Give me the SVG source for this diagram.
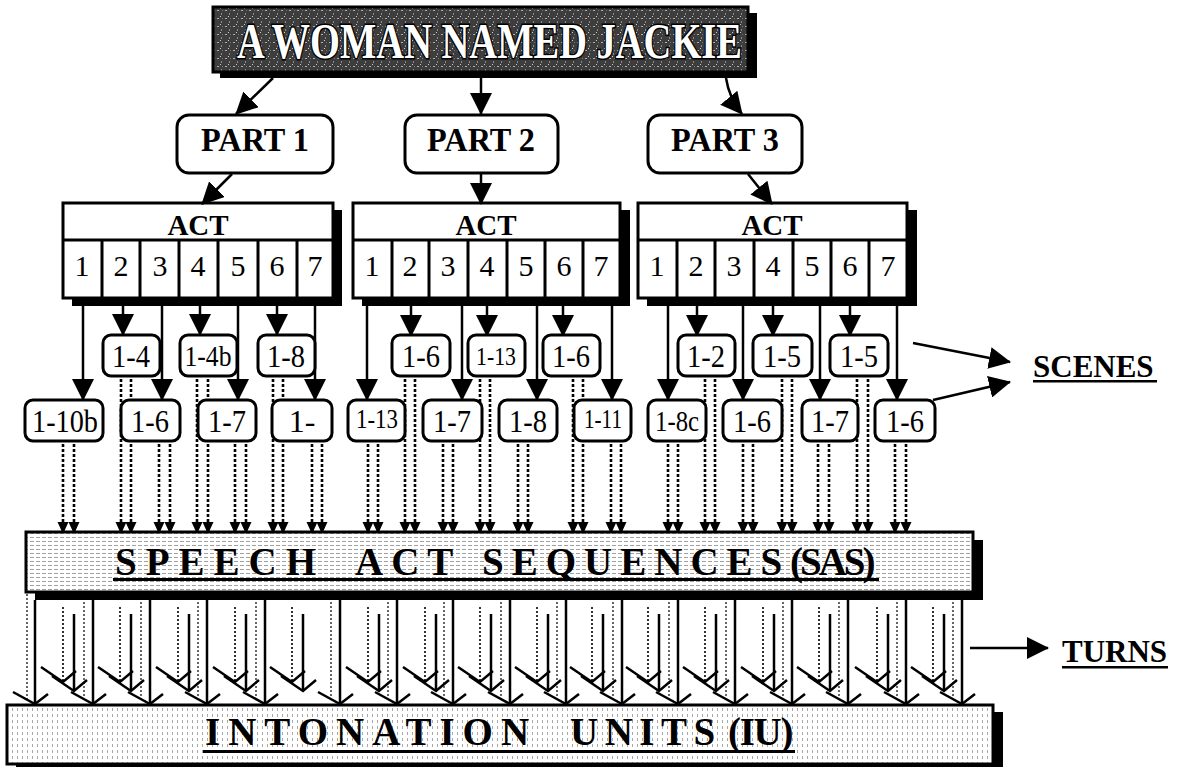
<svg xmlns="http://www.w3.org/2000/svg" width="1185" height="767" viewBox="0 0 1185 767">
<style>
.box{fill:#fff;stroke:#000;stroke-width:3}
.sh{fill:#000}
.t{font-family:"Liberation Serif","Times New Roman",serif;fill:#000}
.b{font-weight:bold}
.c{text-anchor:middle}
.ln{stroke:#000;stroke-width:2.5;fill:none}
.dt{stroke:#000;stroke-width:2.6;stroke-dasharray:3 2;fill:none}
.th{stroke:#000;stroke-width:1.2;stroke-dasharray:2 2;fill:none}
.sl{font-size:32px}
</style>
<defs>
<marker id="ah" viewBox="0 0 22 22" refX="21" refY="11" markerWidth="22" markerHeight="22" markerUnits="userSpaceOnUse" orient="auto"><path d="M0,0 L22,11 L0,22 z" fill="#000"/></marker>
<marker id="ahs" viewBox="0 0 12 12" refX="12" refY="6" markerWidth="12" markerHeight="12" markerUnits="userSpaceOnUse" orient="auto"><path d="M0,0.5 L12,6 L0,11.5 z" fill="#000"/></marker>
<pattern id="grain" width="8" height="8" patternUnits="userSpaceOnUse"><rect width="8" height="8" fill="#3d3d3d"/><rect x="1" y="2" width="2" height="1" fill="#b0b0b0"/><rect x="5" y="5" width="1" height="2" fill="#8a8a8a"/><rect x="4" y="0" width="1" height="1" fill="#d0d0d0"/><rect x="6" y="2" width="1" height="1" fill="#777"/></pattern>
<pattern id="hdots" width="6" height="4" patternUnits="userSpaceOnUse"><rect width="6" height="4" fill="#fff"/><rect x="0" y="1" width="4" height="1" fill="#a0a0a0"/></pattern>
<pattern id="vdots" width="5" height="6" patternUnits="userSpaceOnUse"><rect width="5" height="6" fill="#fff"/><rect x="2" y="0" width="1" height="3" fill="#a8a8a8"/></pattern>
</defs>

<g id="title">
<rect class="sh" x="220" y="13" width="537" height="65"/>
<rect x="213" y="7" width="535" height="65" fill="url(#grain)" stroke="#000" stroke-width="3"/>
<text class="t b" x="237" y="58" font-size="50" textLength="505" lengthAdjust="spacingAndGlyphs" style="fill:#fff;stroke:#000;stroke-width:3;paint-order:stroke fill">A WOMAN NAMED JACKIE</text>
</g>

<g id="part1"><rect class="box" x="177" y="115" width="156" height="58" rx="12"/><text class="t b c" x="255" y="151" font-size="34" textLength="108" lengthAdjust="spacingAndGlyphs">PART 1</text></g>
<g id="part2"><rect class="box" x="405" y="115" width="153" height="58" rx="12"/><text class="t b c" x="481" y="151" font-size="34" textLength="108" lengthAdjust="spacingAndGlyphs">PART 2</text></g>
<g id="part3"><rect class="box" x="648" y="115" width="154" height="58" rx="12"/><text class="t b c" x="725" y="151" font-size="34" textLength="108" lengthAdjust="spacingAndGlyphs">PART 3</text></g>

<g id="act1">
<rect class="sh" x="72" y="210" width="270" height="96"/>
<rect class="box" x="63" y="203" width="270" height="95"/>
<path class="ln" d="M63,240 H333 M102,240 V298 M140,240 V298 M179,240 V298 M218,240 V298 M258,240 V298 M297,240 V298" style="stroke-width:3"/>
<text class="t b c" x="198" y="235" font-size="29">ACT</text>
<g class="t c" font-size="30"><text x="82" y="276">1</text><text x="121" y="276">2</text><text x="160" y="276">3</text><text x="198" y="276">4</text><text x="238" y="276">5</text><text x="277" y="276">6</text><text x="315" y="276">7</text></g>
</g>
<g id="act2">
<rect class="sh" x="362" y="210" width="268" height="96"/>
<rect class="box" x="353" y="203" width="267" height="95"/>
<path class="ln" d="M353,240 H620 M392,240 V298 M429,240 V298 M468,240 V298 M507,240 V298 M545,240 V298 M583,240 V298" style="stroke-width:3"/>
<text class="t b c" x="486" y="235" font-size="29">ACT</text>
<g class="t c" font-size="30"><text x="372" y="276">1</text><text x="410" y="276">2</text><text x="448" y="276">3</text><text x="487" y="276">4</text><text x="526" y="276">5</text><text x="564" y="276">6</text><text x="601" y="276">7</text></g>
</g>
<g id="act3">
<rect class="sh" x="647" y="210" width="270" height="96"/>
<rect class="box" x="638" y="203" width="269" height="95"/>
<path class="ln" d="M638,240 H907 M677,240 V298 M715,240 V298 M754,240 V298 M793,240 V298 M831,240 V298 M869,240 V298" style="stroke-width:3"/>
<text class="t b c" x="772" y="235" font-size="29">ACT</text>
<g class="t c" font-size="30"><text x="657" y="276">1</text><text x="696" y="276">2</text><text x="734" y="276">3</text><text x="773" y="276">4</text><text x="812" y="276">5</text><text x="850" y="276">6</text><text x="888" y="276">7</text></g>
</g>

<g id="connectors">
<path class="ln" marker-end="url(#ah)" d="M273,78 L236,114"/>
<path class="ln" marker-end="url(#ah)" d="M481,78 V114"/>
<path class="ln" marker-end="url(#ah)" d="M726,78 Q729,98 742,114"/>
<path class="ln" marker-end="url(#ah)" d="M232,174 L202,204"/>
<path class="ln" marker-end="url(#ah)" d="M481,174 V204"/>
<path class="ln" marker-end="url(#ah)" d="M748,174 L772,204"/>
<g class="ln" marker-end="url(#ah)">
<path d="M123,298 V335"/><path d="M200,298 V335"/><path d="M277,298 V335"/>
<path d="M411,298 V336"/><path d="M487,298 V336"/><path d="M563,298 V336"/>
<path d="M697,298 V336"/><path d="M773,298 V336"/><path d="M850,298 V336"/>
<path d="M83,298 V400"/><path d="M162,298 V400"/><path d="M238,298 V400"/><path d="M315,298 V400"/>
<path d="M367,298 V400"/><path d="M462,298 V400"/><path d="M537,298 V400"/><path d="M612,298 V400"/>
<path d="M668,298 V400"/><path d="M743,298 V400"/><path d="M820,298 V400"/><path d="M897,298 V400"/>
</g>
<g class="dt" marker-end="url(#ahs)">
<path d="M121,379 V534"/><path d="M131,379 V534"/>
<path d="M197,379 V534"/><path d="M208,379 V534"/>
<path d="M273,379 V534"/><path d="M283,379 V534"/>
<path d="M405,379 V534"/><path d="M415,379 V534"/>
<path d="M480,379 V534"/><path d="M490,379 V534"/>
<path d="M573,379 V534"/><path d="M583,379 V534"/>
<path d="M705,379 V534"/><path d="M715,379 V534"/>
<path d="M782,379 V534"/><path d="M792,379 V534"/>
<path d="M857,379 V534"/><path d="M868,379 V534"/>
<path d="M63,444 V534"/><path d="M74,444 V534"/>
<path d="M159,444 V534"/><path d="M170,444 V534"/>
<path d="M235,444 V534"/><path d="M246,444 V534"/>
<path d="M312,444 V534"/><path d="M322,444 V534"/>
<path d="M368,444 V534"/><path d="M378,444 V534"/>
<path d="M443,444 V534"/><path d="M453,444 V534"/>
<path d="M518,444 V534"/><path d="M528,444 V534"/>
<path d="M611,444 V534"/><path d="M621,444 V534"/>
<path d="M668,444 V534"/><path d="M678,444 V534"/>
<path d="M743,444 V534"/><path d="M753,444 V534"/>
<path d="M818,444 V534"/><path d="M829,444 V534"/>
<path d="M895,444 V534"/><path d="M906,444 V534"/>
</g>
<path class="ln" marker-end="url(#ah)" d="M913,343 L1010,362"/>
<path class="ln" marker-end="url(#ah)" d="M933,400 L1010,382"/>
<path class="ln" marker-end="url(#ah)" d="M970,648 H1048"/>
<g id="turn-lines">
<path class="ln" d="M35,600 V704 M93,600 V704 M150,600 V704 M207,600 V704 M265,600 V704 M340,600 V704 M397,600 V704 M453,600 V704 M510,600 V704 M566,600 V704 M622,600 V704 M678,600 V704 M735,600 V704 M792,600 V704 M848,600 V704 M906,600 V704 M962,600 V704"/>
<path class="th" d="M27,594 V700 M84,602 V698 M141,602 V698 M198,602 V698 M256,602 V698 M331,602 V698 M388,602 V698 M444,602 V698 M501,602 V698 M557,602 V698 M613,602 V698 M669,602 V698 M726,602 V698 M783,602 V698 M839,602 V698 M897,602 V698 M953,602 V698"/>
<path class="ln" d="M13,692 L35,704 L48,694 M71,692 L93,704 L106,694 M128,692 L150,704 L163,694 M185,692 L207,704 L220,694 M243,692 L265,704 L278,694 M318,692 L340,704 L353,694 M375,692 L397,704 L410,694 M431,692 L453,704 L466,694 M488,692 L510,704 L523,694 M544,692 L566,704 L579,694 M600,692 L622,704 L635,694 M656,692 L678,704 L691,694 M713,692 L735,704 L748,694 M770,692 L792,704 L805,694 M826,692 L848,704 L861,694 M884,692 L906,704 L919,694 M940,692 L962,704 L975,694"/>
<path class="th" style="stroke-width:1.6" d="M63,607 V681 M120,607 V681 M178,607 V681 M235,607 V681 M292,607 V681 M368,607 V681 M425,607 V681 M480,607 V681 M537,607 V681 M592,607 V681 M648,607 V681 M705,607 V681 M763,607 V681 M819,607 V681 M877,607 V681 M933,607 V681"/>
<path class="ln" d="M74,614 V691 M131,614 V691 M189,614 V691 M246,614 V691 M303,614 V691 M379,614 V691 M436,614 V691 M491,614 V691 M548,614 V691 M603,614 V691 M659,614 V691 M716,614 V691 M774,614 V691 M830,614 V691 M888,614 V691 M944,614 V691"/>
<path class="ln" d="M41,667 L63,682 L76,671 M52,676 L74,691 L87,680 M98,667 L120,682 L133,671 M109,676 L131,691 L144,680 M156,667 L178,682 L191,671 M167,676 L189,691 L202,680 M213,667 L235,682 L248,671 M224,676 L246,691 L259,680 M270,667 L292,682 L305,671 M281,676 L303,691 L316,680 M346,667 L368,682 L381,671 M357,676 L379,691 L392,680 M403,667 L425,682 L438,671 M414,676 L436,691 L449,680 M458,667 L480,682 L493,671 M469,676 L491,691 L504,680 M515,667 L537,682 L550,671 M526,676 L548,691 L561,680 M570,667 L592,682 L605,671 M581,676 L603,691 L616,680 M626,667 L648,682 L661,671 M637,676 L659,691 L672,680 M683,667 L705,682 L718,671 M694,676 L716,691 L729,680 M741,667 L763,682 L776,671 M752,676 L774,691 L787,680 M797,667 L819,682 L832,671 M808,676 L830,691 L843,680 M855,667 L877,682 L890,671 M866,676 L888,691 L901,680 M911,667 L933,682 L946,671 M922,676 L944,691 L957,680"/>
</g>
</g>

<g class="t c">
<g id="s1-4"><rect class="box" x="103" y="335" width="57" height="41" rx="8"/><text class="sl" x="131" y="367" textLength="38" lengthAdjust="spacingAndGlyphs">1-4</text></g>
<g id="s1-4b"><rect class="box" x="180" y="335" width="57" height="41" rx="8"/><text x="208" y="366" font-size="29" textLength="47" lengthAdjust="spacingAndGlyphs">1-4b</text></g>
<g id="s1-8a"><rect class="box" x="258" y="335" width="57" height="41" rx="8"/><text class="sl" x="286" y="367" textLength="38" lengthAdjust="spacingAndGlyphs">1-8</text></g>
<g id="s2-6a"><rect class="box" x="392" y="335" width="58" height="41" rx="8"/><text class="sl" x="421" y="367" textLength="38" lengthAdjust="spacingAndGlyphs">1-6</text></g>
<g id="s2-13a"><rect class="box" x="468" y="335" width="57" height="41" rx="8"/><text x="496" y="365" font-size="26" textLength="40" lengthAdjust="spacingAndGlyphs">1-13</text></g>
<g id="s2-6b"><rect class="box" x="543" y="335" width="57" height="41" rx="8"/><text class="sl" x="571" y="367" textLength="38" lengthAdjust="spacingAndGlyphs">1-6</text></g>
<g id="s3-2"><rect class="box" x="678" y="335" width="57" height="41" rx="8"/><text class="sl" x="706" y="367" textLength="38" lengthAdjust="spacingAndGlyphs">1-2</text></g>
<g id="s3-5a"><rect class="box" x="753" y="335" width="59" height="41" rx="8"/><text class="sl" x="782" y="367" textLength="38" lengthAdjust="spacingAndGlyphs">1-5</text></g>
<g id="s3-5b"><rect class="box" x="830" y="335" width="58" height="41" rx="8"/><text class="sl" x="859" y="367" textLength="38" lengthAdjust="spacingAndGlyphs">1-5</text></g>

<g id="s1-10b"><rect class="box" x="25" y="400" width="78" height="41" rx="8"/><text class="sl" x="65" y="432" textLength="66" lengthAdjust="spacingAndGlyphs">1-10b</text></g>
<g id="s1-6"><rect class="box" x="121" y="400" width="59" height="41" rx="8"/><text class="sl" x="150" y="432" textLength="38" lengthAdjust="spacingAndGlyphs">1-6</text></g>
<g id="s1-7"><rect class="box" x="198" y="400" width="58" height="41" rx="8"/><text class="sl" x="227" y="432" textLength="38" lengthAdjust="spacingAndGlyphs">1-7</text></g>
<g id="s1-"><rect class="box" x="272" y="400" width="60" height="41" rx="8"/><text class="sl" x="302" y="432">1-</text></g>
<g id="s2-13b"><rect class="box" x="348" y="400" width="57" height="41" rx="8"/><text x="377" y="428" font-size="27" textLength="42" lengthAdjust="spacingAndGlyphs">1-13</text></g>
<g id="s2-7"><rect class="box" x="423" y="400" width="59" height="41" rx="8"/><text class="sl" x="452" y="432" textLength="38" lengthAdjust="spacingAndGlyphs">1-7</text></g>
<g id="s2-8"><rect class="box" x="499" y="400" width="58" height="41" rx="8"/><text class="sl" x="528" y="432" textLength="38" lengthAdjust="spacingAndGlyphs">1-8</text></g>
<g id="s2-11"><rect class="box" x="574" y="400" width="57" height="41" rx="8"/><text x="603" y="428" font-size="27" textLength="38" lengthAdjust="spacingAndGlyphs">1-11</text></g>
<g id="s3-8c"><rect class="box" x="648" y="400" width="58" height="41" rx="8"/><text x="677" y="431" font-size="30" textLength="44" lengthAdjust="spacingAndGlyphs">1-8c</text></g>
<g id="s3-6a"><rect class="box" x="723" y="400" width="59" height="41" rx="8"/><text class="sl" x="752" y="432" textLength="38" lengthAdjust="spacingAndGlyphs">1-6</text></g>
<g id="s3-7"><rect class="box" x="802" y="400" width="56" height="41" rx="8"/><text class="sl" x="830" y="432" textLength="38" lengthAdjust="spacingAndGlyphs">1-7</text></g>
<g id="s3-6b"><rect class="box" x="875" y="400" width="60" height="41" rx="8"/><text class="sl" x="905" y="432" textLength="38" lengthAdjust="spacingAndGlyphs">1-6</text></g>
</g>

<g id="sas">
<rect class="sh" x="35" y="540" width="948" height="60"/>
<rect x="26" y="532" width="947" height="60" fill="url(#hdots)" stroke="#000" stroke-width="3"/>
<text class="t b" y="575" font-size="39"><tspan x="115" letter-spacing="9">SPEECH</tspan><tspan x="355" letter-spacing="8">ACT</tspan><tspan x="482" letter-spacing="8">SEQUENCES</tspan><tspan x="790" letter-spacing="-3">(SAS)</tspan></text>
<rect x="113" y="578" width="766" height="3"/>
</g>

<g id="iu">
<rect class="sh" x="16" y="712" width="987" height="60"/>
<rect x="7" y="705" width="986" height="59" fill="url(#vdots)" stroke="#000" stroke-width="3"/>
<text class="t b" y="745" font-size="39"><tspan x="205" letter-spacing="8">INTONATION</tspan><tspan x="570" letter-spacing="6.5">UNITS</tspan><tspan x="728" letter-spacing="-1.3">(IU)</tspan></text>
<rect x="203" y="750" width="592" height="3"/>
</g>

<g id="scenes-label"><text class="t b" x="1033" y="377" font-size="31">SCENES</text><rect x="1033" y="380" width="124" height="2.5"/></g>
<g id="turns-label"><text class="t b" x="1062" y="662" font-size="31">TURNS</text><rect x="1062" y="666" width="106" height="2.5"/></g>
</svg>
